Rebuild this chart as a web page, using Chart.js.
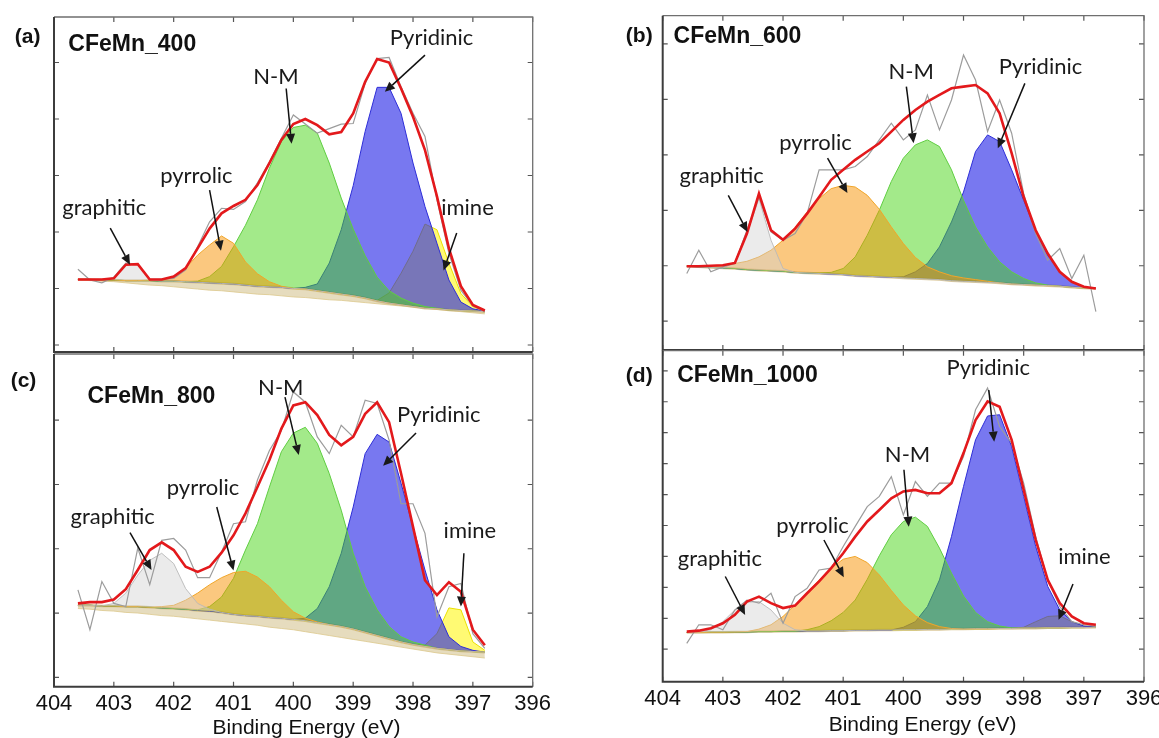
<!DOCTYPE html>
<html><head><meta charset="utf-8">
<script src="https://cdn.jsdelivr.net/npm/chart.js@4.4.0/dist/chart.umd.min.js"></script>
<style>
html,body{margin:0;padding:0;background:#fff;width:1159px;height:738px;overflow:hidden;}
canvas{position:absolute;}
</style></head><body>
<canvas id="ca" width="590" height="362" style="left:0;top:0"></canvas>
<canvas id="cb" width="559" height="360" style="left:600px;top:0"></canvas>
<canvas id="cc" width="590" height="393" style="left:0;top:345px"></canvas>
<canvas id="cd" width="559" height="396" style="left:600px;top:342px"></canvas>
<script>
// Binding energy (eV) sample points
const energy = [403.6,403.4,403.2,403.0,402.8,402.6,402.4,402.2,402.0,401.8,401.6,401.4,401.2,401.0,400.8,400.6,400.4,400.2,400.0,399.8,399.6,399.4,399.2,399.0,398.8,398.6,398.4,398.2,398.0,397.8,397.6,397.4,397.2,397.0,396.8];
const xTickValues = [404,403,402,401,400,399,398,397,396];
const xAxisTitle = 'Binding Energy (eV)';

// ---------- (a) CFeMn_400 ----------
const rawA = [1.34,1.15,1.10,1.20,1.45,1.43,1.16,1.16,1.18,1.33,1.74,2.18,2.42,2.40,2.54,2.87,3.24,3.66,4.07,3.91,3.75,3.83,3.91,3.92,4.63,5.07,5.09,4.57,4.10,3.69,2.57,1.62,0.97,0.69,0.59];
const fitA = [1.16,1.16,1.16,1.18,1.42,1.43,1.16,1.16,1.21,1.36,1.71,2.06,2.33,2.46,2.57,2.83,3.22,3.63,3.91,4.00,3.89,3.73,3.77,4.10,4.66,5.06,5.00,4.54,4.04,3.45,2.63,1.71,1.04,0.71,0.61];
const baseA = [1.16,1.16,1.15,1.15,1.14,1.14,1.14,1.13,1.13,1.12,1.11,1.10,1.09,1.08,1.06,1.04,1.03,1.02,1.00,0.99,0.96,0.93,0.90,0.87,0.83,0.78,0.74,0.71,0.68,0.65,0.64,0.62,0.61,0.60,0.59];
const lowA = [1.15,1.14,1.13,1.12,1.10,1.08,1.06,1.05,1.03,1.01,0.99,0.97,0.96,0.94,0.92,0.90,0.89,0.87,0.85,0.84,0.82,0.80,0.79,0.77,0.75,0.73,0.71,0.69,0.67,0.65,0.63,0.61,0.59,0.57,0.55];
const graphiticA = [0,0,0,0.03,0.28,0.29,0.02,0,0,0,0,0,0,0,0,0,0,0,0,0,0,0,0,0,0,0,0,0,0,0,0,0,0,0,0];
const pyrrolicA = [0,0,0,0,0,0,0.01,0.03,0.08,0.24,0.48,0.67,0.84,0.72,0.41,0.22,0.09,0.02,0,0,0,0,0,0,0,0,0,0,0,0,0,0,0,0,0];
const nmA = [0,0,0,0,0,0,0,0,0,0,0.02,0.11,0.30,0.66,1.06,1.53,2.10,2.58,2.85,2.90,2.79,2.29,1.70,1.18,0.75,0.42,0.22,0.12,0.06,0.03,0.01,0,0,0,0];
const pyridinicA = [0,0,0,0,0,0,0,0,0,0,0,0,0,0,0,0,0,0,0,0.03,0.12,0.52,1.14,1.95,2.95,3.78,3.82,3.39,2.54,1.80,1.16,0.53,0.15,0.04,0.01];
const imineA = [0,0,0,0,0,0,0,0,0,0,0,0,0,0,0,0,0,0,0,0,0,0,0,0,0,0.01,0.18,0.56,0.98,1.49,1.40,0.83,0.30,0.08,0.01];
const yTicksA = [0,1,2,3,4,5];

// ---------- (b) CFeMn_600 ----------
const rawB = [0.86,1.28,0.89,0.98,1.04,1.64,2.24,1.61,1.46,1.58,1.94,2.73,2.73,2.73,2.79,2.97,3.27,3.57,3.27,3.45,4.08,3.45,3.99,4.80,4.35,3.42,3.99,3.39,2.30,1.58,1.10,1.31,0.77,1.19,0.17];
const fitB = [0.99,0.99,1.00,1.01,1.05,1.58,2.30,1.64,1.47,1.67,1.94,2.24,2.55,2.73,2.91,3.06,3.21,3.42,3.63,3.81,3.96,4.08,4.20,4.23,4.26,4.11,3.75,3.03,2.24,1.64,1.22,0.89,0.71,0.62,0.59];
const baseB = [0.99,0.98,0.97,0.96,0.95,0.93,0.92,0.91,0.90,0.88,0.87,0.86,0.85,0.84,0.82,0.81,0.80,0.79,0.78,0.77,0.76,0.75,0.73,0.72,0.71,0.70,0.69,0.67,0.66,0.65,0.64,0.63,0.61,0.60,0.59];
const graphiticB = [0,0,0,0,0.12,0.65,1.29,0.55,0.05,0,0,0,0,0,0,0,0,0,0,0,0,0,0,0,0,0,0,0,0,0,0,0,0,0,0];
const pyrrolicB = [0.01,0.02,0.03,0.05,0.09,0.15,0.24,0.37,0.56,0.81,1.10,1.35,1.54,1.61,1.60,1.46,1.22,0.91,0.62,0.38,0.22,0.14,0.09,0.06,0.04,0.02,0,0,0,0,0,0,0,0,0];
const nmB = [0,0,0,0,0,0,0,0,0,0,0,0.01,0.03,0.11,0.34,0.74,1.20,1.73,2.16,2.41,2.51,2.40,2.00,1.46,0.99,0.64,0.38,0.22,0.11,0.04,0.01,0,0,0,0];
const pyridinicB = [0,0,0,0,0,0,0,0,0,0,0,0,0,0,0,0,0,0,0.02,0.12,0.28,0.59,1.06,1.61,2.35,2.66,2.55,2.06,1.52,0.99,0.55,0.26,0.10,0.02,0];
const yTicksB = [0,1,2,3,4,5];

// ---------- (c) CFeMn_800 ----------
const rawC = [1.36,0.74,1.49,1.15,1.10,2.01,1.44,2.13,2.16,1.98,1.55,1.55,1.95,2.39,2.42,3.07,3.53,3.84,4.44,4.28,3.74,3.48,3.92,3.74,4.31,4.26,3.69,2.70,2.70,2.24,0.94,1.41,1.46,0.68,0.45];
const fitC = [1.15,1.17,1.17,1.21,1.37,1.67,1.98,2.10,1.98,1.72,1.64,1.72,1.94,2.21,2.55,2.96,3.38,3.87,4.23,4.28,4.08,3.77,3.61,3.74,4.10,4.28,3.97,3.17,2.34,1.51,1.28,1.48,1.33,0.74,0.50];
const baseC = [1.12,1.12,1.11,1.11,1.10,1.10,1.09,1.08,1.07,1.06,1.04,1.03,1.01,0.98,0.96,0.95,0.93,0.92,0.90,0.88,0.85,0.82,0.79,0.75,0.70,0.65,0.60,0.55,0.51,0.48,0.45,0.43,0.41,0.40,0.39];
const lowC = [1.07,1.06,1.04,1.03,1.01,1.00,0.98,0.96,0.95,0.93,0.91,0.89,0.87,0.85,0.83,0.81,0.78,0.76,0.74,0.71,0.68,0.65,0.62,0.59,0.56,0.53,0.50,0.47,0.44,0.41,0.38,0.36,0.34,0.32,0.30];
const graphiticC = [0,0,0,0.04,0.21,0.49,0.73,0.85,0.70,0.32,0.11,0.03,0,0,0,0,0,0,0,0,0,0,0,0,0,0,0,0,0,0,0,0,0,0,0];
const pyrrolicC = [0,0,0,0,0,0,0,0.02,0.05,0.14,0.27,0.41,0.54,0.65,0.69,0.61,0.48,0.28,0.12,0.04,0.01,0,0,0,0,0,0,0,0,0,0,0,0,0,0];
const nmC = [0,0,0,0,0,0,0,0,0,0,0.01,0.07,0.24,0.56,1.02,1.44,2.03,2.59,2.90,3.01,2.79,2.35,1.81,1.18,0.71,0.40,0.19,0.08,0.04,0.02,0,0,0,0,0];
const pyridinicC = [0,0,0,0,0,0,0,0,0,0,0,0,0,0,0,0,0,0,0,0.04,0.22,0.59,1.14,1.90,2.78,3.13,3.06,2.47,1.83,1.19,0.60,0.20,0.07,0.02,0];
const imineC = [0,0,0,0,0,0,0,0,0,0,0,0,0,0,0,0,0,0,0,0,0,0,0,0,0,0,0,0,0,0.02,0.23,0.65,0.64,0.15,0.03];
const yTicksC = [0,1,2,3,4];

// ---------- (d) CFeMn_1000 ----------
const rawD = [0.19,0.79,0.79,0.63,1.27,1.59,1.49,1.81,0.84,1.70,1.97,2.56,2.62,3.32,3.97,4.61,4.94,5.58,4.34,5.42,4.94,5.37,5.37,6.23,7.74,8.44,7.20,6.66,5.37,3.64,2.24,1.38,0.89,0.79,0.75];
const fitD = [0.57,0.60,0.68,0.84,1.11,1.54,1.70,1.49,1.33,1.41,1.81,2.19,2.62,3.10,3.64,4.13,4.50,4.88,5.10,5.15,5.04,5.04,5.37,6.34,7.41,8.01,7.84,6.77,5.15,3.53,2.24,1.49,1.06,0.84,0.79];
const baseD = [0.54,0.54,0.55,0.55,0.56,0.56,0.57,0.57,0.58,0.58,0.59,0.59,0.60,0.60,0.61,0.61,0.62,0.62,0.63,0.63,0.64,0.64,0.65,0.65,0.66,0.66,0.67,0.67,0.68,0.68,0.69,0.69,0.70,0.70,0.71];
const graphiticD = [0,0.02,0.08,0.34,0.71,0.96,0.97,0.70,0.26,0.05,0,0,0,0,0,0,0,0,0,0,0,0,0,0,0,0,0,0,0,0,0,0,0,0,0];
const pyrrolicD = [0,0,0,0,0,0.01,0.08,0.22,0.48,0.85,1.24,1.65,2.02,2.31,2.39,2.19,1.78,1.28,0.80,0.45,0.22,0.09,0.02,0,0,0,0,0,0,0,0,0,0,0,0];
const nmD = [0,0,0,0,0,0,0,0,0,0,0.04,0.14,0.32,0.59,0.98,1.65,2.40,3.08,3.50,3.64,3.33,2.63,1.81,1.07,0.53,0.23,0.08,0.02,0,0,0,0,0,0,0];
const pyridinicD = [0,0,0,0,0,0,0,0,0,0,0,0,0,0,0,0,0,0,0.08,0.26,0.74,1.60,2.99,4.61,6.11,6.88,6.91,5.88,4.26,2.64,1.34,0.58,0.19,0.05,0.01];
const imineD = [0,0,0,0,0,0,0,0,0,0,0,0,0,0,0,0,0,0,0,0,0,0,0,0,0,0,0,0,0.03,0.21,0.37,0.39,0.19,0.05,0.01];
const yTicksD = [0,1,2,3,4,5,6,7,8,9];

// Component styles
const STY = {
  graphitic: {fill:'rgba(210,210,210,0.45)', line:'rgba(185,185,185,0.9)', order:4},
  pyrrolic:  {fill:'rgba(247,145,0,0.5)',   line:'rgba(240,165,40,1)',  order:5},
  nm:        {fill:'rgba(71,213,21,0.5)',   line:'rgba(95,205,65,1)',   order:6},
  pyridinic: {fill:'rgba(30,30,230,0.6)',   line:'rgba(45,45,215,1)',   order:7},
  imine:     {fill:'rgba(255,245,0,0.55)',  line:'rgba(235,225,0,1)',   order:8}
};

const PANELS = {};

function pts(vals){ return energy.map((e,i)=>({x:e, y:vals[i]})); }
function onBase(base, peak){ return energy.map((e,i)=>({x:e, y:base[i]+peak[i]})); }

const framePlugin = {
  id:'frame',
  afterDraw(chart){
    const p = PANELS[chart.canvas.id]; if(!p) return;
    const {ctx, chartArea:a, scales:{x,y}} = chart;
    ctx.save();
    const L = 5;
    ctx.strokeStyle = '#555'; ctx.lineWidth = 1.2;
    ctx.beginPath();
    xTickValues.forEach(v=>{ const px = x.getPixelForValue(v);
      ctx.moveTo(px,a.bottom); ctx.lineTo(px,a.bottom-L);
      ctx.moveTo(px,a.top); ctx.lineTo(px,a.top+L); });
    p.yTicks.forEach(v=>{ const py = y.getPixelForValue(v);
      ctx.moveTo(a.left,py); ctx.lineTo(a.left+L,py);
      ctx.moveTo(a.right,py); ctx.lineTo(a.right-L,py); });
    ctx.stroke();
    ctx.strokeStyle = '#6f6f6f'; ctx.lineWidth = 1.3;
    ctx.beginPath();
    ctx.moveTo(a.left,a.top); ctx.lineTo(a.right,a.top); ctx.lineTo(a.right,a.bottom);
    ctx.stroke();
    ctx.strokeStyle = '#3c3c3c'; ctx.lineWidth = 2;
    ctx.beginPath();
    ctx.moveTo(a.left,a.top); ctx.lineTo(a.left,a.bottom); ctx.lineTo(a.right,a.bottom);
    ctx.stroke();
    // annotations with arrows
    ctx.fillStyle = '#1a1a1a'; ctx.strokeStyle = '#111'; ctx.lineWidth = 1.5;
    ctx.textAlign = 'center'; ctx.textBaseline = 'middle';
    ctx.font = '22px Lato';
    p.labels.forEach(l=>{
      ctx.fillText(l[0], x.getPixelForValue(l[1]), y.getPixelForValue(l[2]));
      const x1 = x.getPixelForValue(l[3]), y1 = y.getPixelForValue(l[4]);
      const x2 = x.getPixelForValue(l[5]), y2 = y.getPixelForValue(l[6]);
      const ang = Math.atan2(y2-y1, x2-x1), hl = 10, hw = 4.5;
      const bx = x2 - hl*Math.cos(ang), by = y2 - hl*Math.sin(ang);
      ctx.beginPath(); ctx.moveTo(x1,y1); ctx.lineTo(bx,by); ctx.stroke();
      ctx.beginPath(); ctx.moveTo(x2,y2);
      ctx.lineTo(bx + hw*Math.sin(ang), by - hw*Math.cos(ang));
      ctx.lineTo(bx - hw*Math.sin(ang), by + hw*Math.cos(ang));
      ctx.closePath(); ctx.fill();
    });
    ctx.fillStyle = '#111';
    ctx.textAlign = 'left';
    ctx.font = 'bold 23px "Liberation Sans"';
    ctx.fillText(p.title[0], x.getPixelForValue(p.title[1]), y.getPixelForValue(p.title[2]));
    ctx.textAlign = 'center';
    ctx.font = 'bold 21px "Liberation Sans"';
    ctx.fillText(p.letter[0], x.getPixelForValue(p.letter[1]), y.getPixelForValue(p.letter[2]));
    if (p.axisTitle) {
      ctx.font = '21px "Liberation Sans"';
      ctx.fillText(xAxisTitle, x.getPixelForValue(p.axisTitle[0]), y.getPixelForValue(p.axisTitle[1]));
    }
    ctx.restore();
  }
};

function build(id, d){
  PANELS[id] = d;
  const ds = [];
  ds.push({label:'background', data:pts(d.base), borderColor:'rgba(205,182,120,0.75)', borderWidth:2.5, fill:false, order:9});
  if (d.low) ds.push({label:'background band', data:pts(d.low), borderColor:'rgba(220,200,140,0.8)', borderWidth:1, backgroundColor:'rgba(205,185,125,0.5)', fill:0, order:10});
  d.comps.forEach(c=>{
    const s = STY[c.key];
    ds.push({label:c.key, data:onBase(d.base, c.vals), borderColor:s.line, borderWidth:1, backgroundColor:s.fill, fill:0, order:s.order});
  });
  ds.push({label:'raw', data:pts(d.raw), borderColor:'#9c9c9c', borderWidth:1.2, fill:false, order:2});
  ds.push({label:'fit', data:pts(d.fit), borderColor:'#e3191c', borderWidth:2.6, fill:false, order:1});
  const xScale = {type:'linear', min:396, max:404, reverse:true, display:d.showX,
    grid:{display:false, drawTicks:false}, border:{display:false},
    ticks:{stepSize:1, padding:4, color:'#111', autoSkip:false, maxRotation:0,
      font:{family:'Liberation Sans', size:22}},
    title:{display:false, text:xAxisTitle},
    afterFit(s){ if(d.axisH){ s.height = d.axisH; } s.paddingLeft = 0; s.paddingRight = 0; }
  };
  new Chart(document.getElementById(id), {
    type:'line',
    data:{datasets:ds},
    options:{
      responsive:false, animation:false, events:[],
      layout:{padding:d.pad},
      elements:{point:{radius:0}, line:{tension:0}},
      plugins:{legend:{display:false}, tooltip:{enabled:false}},
      scales:{ x:xScale, y:{type:'linear', display:false, min:d.ymin, max:d.ymax} }
    },
    plugins:[framePlugin]
  });
}

build('ca', {
  raw:rawA, fit:fitA, base:baseA, low:lowA, yTicks:yTicksA, ymin:-0.124, ymax:5.805, showX:false,
  pad:{left:54, top:17, right:57.3, bottom:10},
  comps:[{key:'imine',vals:imineA},{key:'pyridinic',vals:pyridinicA},{key:'nm',vals:nmA},{key:'pyrrolic',vals:pyrrolicA},{key:'graphitic',vals:graphiticA}],
  title:['CFeMn_400',403.76,5.31], letter:['(a)',404.44,5.45],
  labels:[
    ['graphitic',403.16,2.42,403.06,2.07,402.73,1.42],
    ['pyrrolic',401.62,2.99,401.40,2.74,401.21,1.67],
    ['N-M',400.29,4.75,400.12,4.54,400.03,3.56],
    ['Pyridinic',397.69,5.44,397.80,5.13,398.47,4.48],
    ['imine',397.09,2.43,397.27,1.98,397.49,1.32]
  ]
});
build('cb', {
  raw:rawB, fit:fitB, base:baseB, yTicks:yTicksB, ymin:-0.52, ymax:5.51, showX:false,
  pad:{left:62.7, top:15.7, right:15, bottom:10},
  comps:[{key:'pyridinic',vals:pyridinicB},{key:'nm',vals:nmB},{key:'pyrrolic',vals:pyrrolicB},{key:'graphitic',vals:graphiticB}],
  title:['CFeMn_600',403.82,5.14], letter:['(b)',404.39,5.14],
  labels:[
    ['graphitic',403.02,2.62,402.91,2.27,402.59,1.61],
    ['pyrrolic',401.46,3.22,401.26,2.94,400.93,2.31],
    ['N-M',399.87,4.50,399.95,4.23,399.83,3.21],
    ['Pyridinic',397.72,4.58,397.98,4.29,398.43,3.12]
  ]
});
build('cc', {
  raw:rawC, fit:fitC, base:baseC, low:lowC, yTicks:yTicksC, ymin:-0.146, ymax:5.03, showX:true, axisH:51.3,
  pad:{left:54, top:9, right:57.3, bottom:0},
  comps:[{key:'imine',vals:imineC},{key:'pyridinic',vals:pyridinicC},{key:'nm',vals:nmC},{key:'pyrrolic',vals:pyrrolicC},{key:'graphitic',vals:graphiticC}],
  title:['CFeMn_800',403.44,4.36], letter:['(c)',404.51,4.60], axisTitle:[399.78,-0.79],
  labels:[
    ['graphitic',403.02,2.49,402.73,2.25,402.37,1.67],
    ['pyrrolic',401.51,2.94,401.28,2.65,401.00,1.66],
    ['N-M',400.21,4.50,400.14,4.36,399.91,3.46],
    ['Pyridinic',397.57,4.09,397.95,3.80,398.50,3.29],
    ['imine',397.05,2.27,397.15,1.93,397.20,1.10]
  ]
});
build('cd', {
  raw:rawD, fit:fitD, base:baseD, yTicks:yTicksD, ymin:-1.05, ymax:9.65, showX:true, axisH:56.3,
  pad:{left:62.7, top:8.7, right:15, bottom:0},
  comps:[{key:'imine',vals:imineD},{key:'pyridinic',vals:pyridinicD},{key:'nm',vals:nmD},{key:'pyrrolic',vals:pyrrolicD},{key:'graphitic',vals:graphiticD}],
  title:['CFeMn_1000',403.76,8.84], letter:['(d)',404.39,8.84], axisTitle:[399.68,-2.47],
  labels:[
    ['Pyridinic',398.59,9.08,398.58,8.38,398.49,6.71],
    ['N-M',399.93,6.28,399.99,5.80,399.91,3.96],
    ['pyrrolic',401.51,3.99,401.32,3.53,400.99,2.33],
    ['graphitic',403.05,2.92,402.96,2.35,402.63,1.11],
    ['imine',396.99,2.98,397.18,2.11,397.42,0.95]
  ]
});
</script>
</body></html>
